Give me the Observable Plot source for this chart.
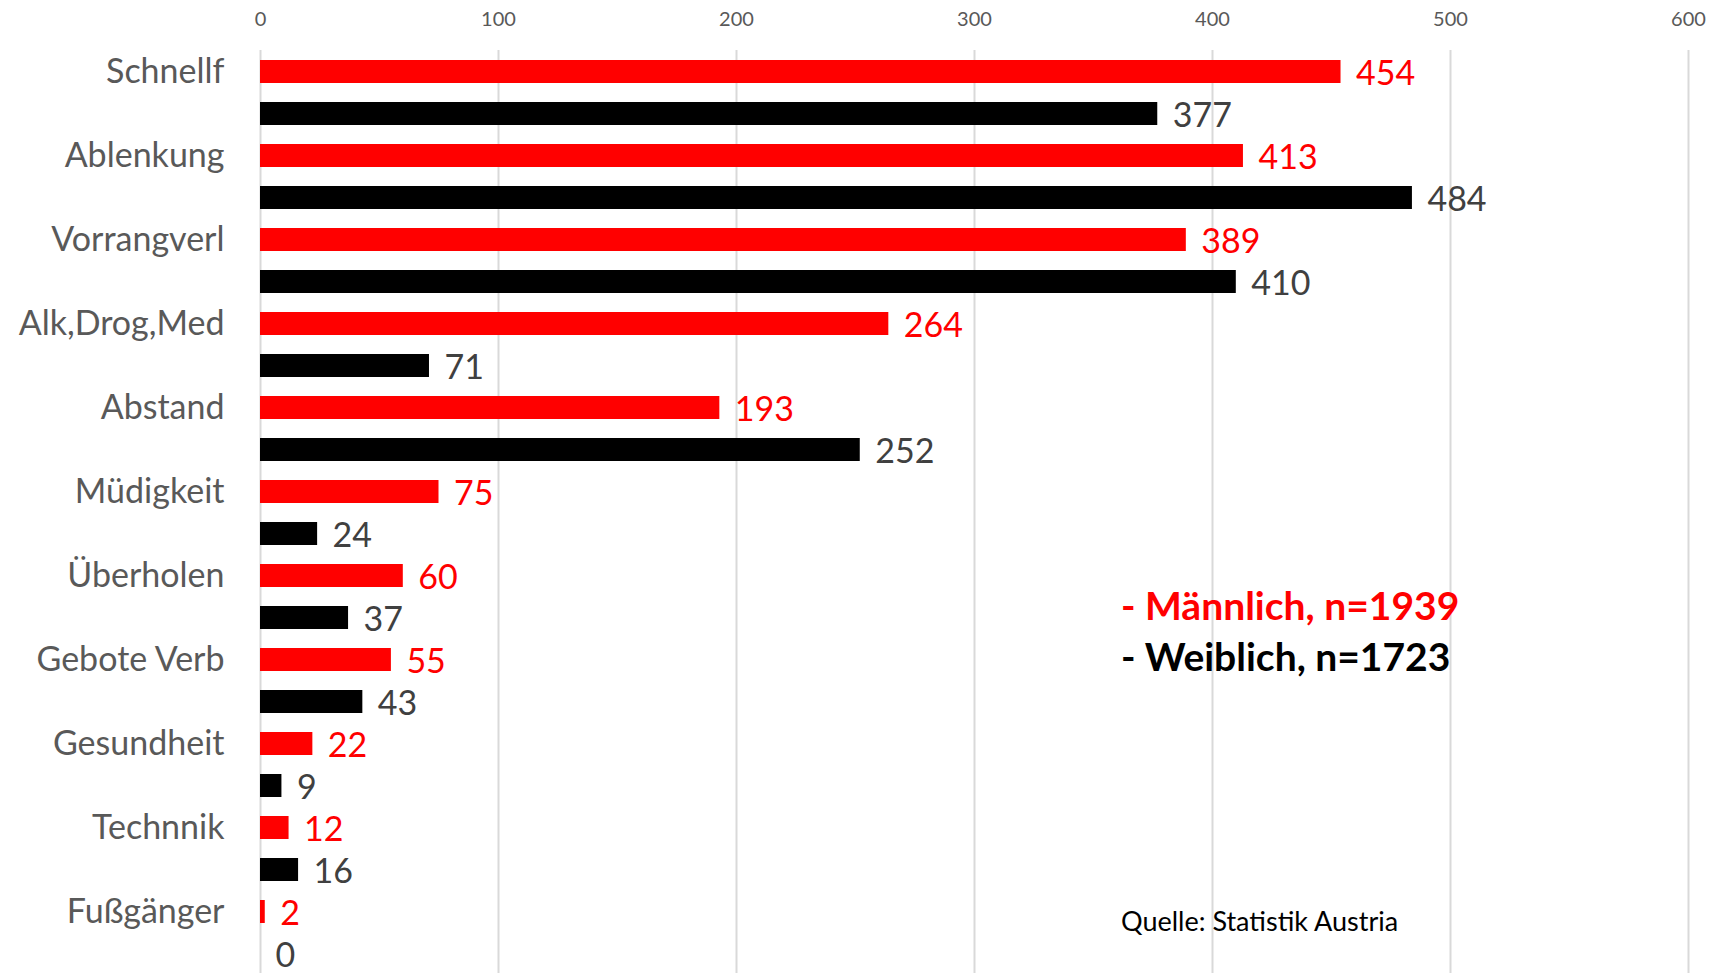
<!DOCTYPE html>
<html>
<head>
<meta charset="utf-8">
<script src="https://cdn.jsdelivr.net/npm/d3@7"></script>
<script src="https://cdn.jsdelivr.net/npm/@observablehq/plot@0.6"></script>
<style>
  html, body { margin: 0; padding: 0; background: #fff; overflow: hidden; }
  #wrap { position: relative; width: 1711px; height: 973px; overflow: hidden; }
  #wrap svg { overflow: hidden; }
  .leg { position: absolute; left: 1121px; font-family: Lato, sans-serif; white-space: nowrap; line-height: 1; }
</style>
</head>
<body>
<div id="wrap"></div>
<script>
const categories = ["Schnellf", "Ablenkung", "Vorrangverl", "Alk,Drog,Med", "Abstand", "Müdigkeit", "Überholen", "Gebote Verb", "Gesundheit", "Technnik", "Fußgänger"];
const maleValues = [454, 413, 389, 264, 193, 75, 60, 55, 22, 12, 2];
const femaleValues = [377, 484, 410, 71, 252, 24, 37, 43, 9, 16, 0];
const seriesKeys = ["m", "w"];
const seriesColors = ["#ff0000", "#000000"];
const labelColors = ["#ff0000", "#404040"];
const xTicks = [0, 100, 200, 300, 400, 500, 600];
const legendTexts = ["- Männlich, n=1939", "- Weiblich, n=1723"];
const sourceText = "Quelle: Statistik Austria";

const rows = [];
categories.forEach((c, i) => {
  rows.push({key: c + "|m", cat: c, sex: "m", value: maleValues[i]});
  rows.push({key: c + "|w", cat: c, sex: "w", value: femaleValues[i]});
});
const keys = rows.map(d => d.key);
const maleKeys = rows.filter(d => d.sex === "m").map(d => d.key);

const chart = Plot.plot({
  width: 1711,
  height: 973,
  marginLeft: 260,
  marginRight: 23,
  marginTop: 50,
  marginBottom: 0,
  style: {fontFamily: "Lato, sans-serif", background: "#fff"},
  x: {domain: [0, 600], axis: null},
  y: {domain: keys, range: [39, 986.4], padding: 0.45, axis: null},
  color: {domain: seriesKeys, range: seriesColors},
  marks: [
    Plot.gridX(xTicks, {stroke: "#d9d9d9", strokeOpacity: 1, strokeWidth: 2}),
    Plot.axisX({anchor: "top", ticks: xTicks, tickSize: 0, tickPadding: 25, fontSize: 20, color: "#595959", label: null, tickFormat: d => String(d)}),
    Plot.axisY({ticks: maleKeys, tickSize: 0, tickPadding: 36, fontSize: 34, color: "#595959", label: null, tickFormat: k => k.split("|")[0]}),
    Plot.barX(rows, {x: "value", y: "key", fill: "sex"}),
    Plot.text(rows, {x: "value", y: "key", text: d => String(d.value), dx: 15, dy: 2, textAnchor: "start", fontSize: 34,
      fill: d => labelColors[seriesKeys.indexOf(d.sex)]})
  ]
});
const wrap = document.getElementById("wrap");
wrap.appendChild(chart);

const l1 = document.createElement("div");
l1.className = "leg"; l1.style.top = "586px"; l1.style.fontSize = "39px"; l1.style.fontWeight = "bold"; l1.style.color = seriesColors[0];
l1.textContent = legendTexts[0];
const l2 = document.createElement("div");
l2.className = "leg"; l2.style.top = "637px"; l2.style.fontSize = "39px"; l2.style.fontWeight = "bold"; l2.style.color = seriesColors[1];
l2.textContent = legendTexts[1];
const l3 = document.createElement("div");
l3.className = "leg"; l3.style.top = "907px"; l3.style.fontSize = "27px"; l3.style.color = "#000";
l3.textContent = sourceText;
wrap.append(l1, l2, l3);
</script>
</body>
</html>
